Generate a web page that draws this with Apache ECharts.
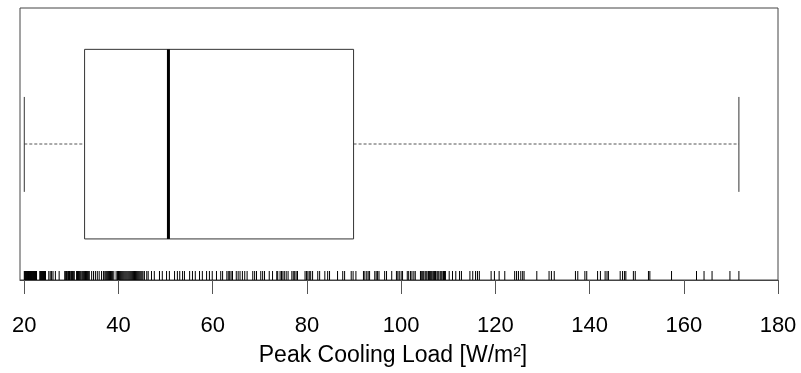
<!DOCTYPE html>
<html>
<head>
<meta charset="utf-8">
<script src="https://cdn.jsdelivr.net/npm/echarts@6/dist/echarts.min.js"></script>
<style>
  html, body { margin: 0; padding: 0; background: #fff; }
  #chart { width: 801px; height: 373px; }
</style>
</head>
<body>
<div id="chart"></div>
<script>
// box stats: min, Q1, median, Q3, max
const boxStats = [20.0, 32.8, 50.6, 89.9, 171.7];
const xTicks = [20, 40, 60, 80, 100, 120, 140, 160, 180];
const axisTitle = 'Peak Cooling Load [W/m²]';

// individual observations (rug)
const rugValues = [
  20.0, 20.1, 20.2, 20.3, 20.4, 20.5, 20.6, 20.7, 20.8, 20.9, 21.0, 21.1, 21.2, 21.3, 21.4, 21.5,
  21.6, 21.7, 21.8, 21.9, 22.0, 22.1, 22.2, 22.3, 22.4, 22.5, 22.6,
  23.3, 23.4, 23.5, 23.6, 23.7, 23.8, 23.9, 24.0, 24.1, 24.2, 24.3, 24.4, 24.5,
  25.2, 25.5, 25.8, 26.1, 26.6, 27.4,
  28.6, 28.7, 28.9, 29.0, 29.1, 29.3, 29.4, 29.6, 29.7, 29.9, 30.0, 30.2, 30.3, 30.5, 30.6,
  31.1, 31.3, 31.5, 31.7, 31.9, 32.2, 32.4, 32.6, 32.8, 33.0, 33.2, 33.4, 33.6, 33.8,
  34.3, 34.7, 35.1, 35.5, 35.9, 36.4,
  36.8, 37.1, 37.3, 37.5, 37.7, 37.9, 38.1, 38.3, 38.5, 38.7, 39.0,
  39.5, 39.8, 40.0, 40.2, 40.4, 40.6, 40.8, 41.0, 41.2, 41.4, 41.6, 41.8, 42.0, 42.2, 42.4,
  42.6, 42.8, 43.0, 43.2, 43.4, 43.6, 43.8, 44.0, 44.2, 44.4, 44.6, 44.8, 45.0, 45.2, 45.5,
  46.0, 46.3, 47.0, 47.6, 48.7, 49.3, 50.2, 50.8, 51.9, 52.5, 53.0, 53.6, 54.0, 55.1, 55.7, 56.3,
  57.2, 57.8, 58.7, 59.3, 59.9, 60.8, 61.7, 62.1, 63.0, 63.3, 63.6, 63.9, 64.2,
  65.0, 65.4, 65.8, 66.3, 66.8, 67.3, 68.5, 68.9, 69.3,
  70.2, 70.6, 71.0, 72.0, 72.7, 73.6, 73.8, 74.3, 74.6, 74.9, 75.2, 75.6, 76.0,
  76.8, 77.1, 77.4, 77.7, 78.0, 79.6, 79.9, 80.2, 80.5, 80.8, 81.2, 82.3, 82.7,
  83.8, 84.4, 84.8, 86.5, 87.6, 88.0, 89.4, 89.8, 90.4, 92.0, 92.3, 92.7, 93.0, 93.3,
  94.4, 94.7, 95.0, 95.3, 96.5, 96.9, 98.0, 99.0, 99.3, 99.6, 100.0, 100.3,
  101.3, 101.6, 102.0, 102.3, 102.7, 103.0, 104.1, 104.2, 104.4, 104.6, 104.8, 105.1, 105.3,
  105.5, 105.8, 106.0, 106.2, 106.4, 106.6, 106.9, 107.1, 107.3, 107.6, 107.8, 108.0, 108.3,
  108.5, 108.7, 109.0, 109.2, 109.4,
  110.2, 110.9, 111.6, 112.4, 112.8, 114.6, 115.2, 115.8, 116.2, 116.6,
  119.1, 119.8, 120.8, 122.0, 124.1, 124.5, 124.9, 125.4, 125.8,
  126.1, 128.8, 131.4, 131.9, 132.5, 137.0, 137.5, 139.0, 139.4, 141.7, 142.3,
  143.3, 143.7, 144.0, 146.5, 147.0, 147.4, 147.7, 149.3, 149.7, 152.5, 152.8,
  157.4, 162.7, 164.3, 166.0, 169.8, 171.7
];

const font = 'Liberation Sans, Arial, sans-serif';
const chart = echarts.init(document.getElementById('chart'));

function renderBox(params, api) {
  const v = [0, 1, 2, 3, 4].map(i => api.value(i));
  const yMid = api.coord([v[0], 0.5])[1];
  const yTop = api.coord([v[0], 0.848])[1];
  const yBot = api.coord([v[0], 0.151])[1];
  const capTop = api.coord([v[0], 0.673])[1];
  const capBot = api.coord([v[0], 0.324])[1];
  const x = v.map(d => api.coord([d, 0.5])[0]);
  const dash = { stroke: '#555', lineWidth: 1, lineDash: [3, 2] };
  const solid = { stroke: '#333', lineWidth: 1 };
  return {
    type: 'group',
    children: [
      { type: 'line', shape: { x1: x[0], y1: yMid, x2: x[1], y2: yMid }, style: dash },
      { type: 'line', shape: { x1: x[3], y1: yMid, x2: x[4], y2: yMid }, style: dash },
      { type: 'line', shape: { x1: x[0], y1: capTop, x2: x[0], y2: capBot }, style: solid },
      { type: 'line', shape: { x1: x[4], y1: capTop, x2: x[4], y2: capBot }, style: solid },
      { type: 'rect', shape: { x: x[1], y: yTop, width: x[3] - x[1], height: yBot - yTop },
        style: { fill: '#fff', stroke: '#333', lineWidth: 1 } },
      { type: 'line', shape: { x1: x[2], y1: yTop, x2: x[2], y2: yBot },
        style: { stroke: '#000', lineWidth: 3 } }
    ]
  };
}

function renderRug(params, api) {
  const p = api.coord([api.value(0), 0]);
  return {
    type: 'line',
    shape: { x1: p[0], y1: p[1], x2: p[0], y2: p[1] - 9 },
    style: { stroke: '#000', lineWidth: 1 }
  };
}

chart.setOption({
  animation: false,
  grid: { left: 20, right: 23, top: 8, bottom: 93, show: true, borderColor: '#444', borderWidth: 1 },
  xAxis: {
    type: 'value',
    min: 19.09,
    max: 180,
    axisLine: { show: true, onZero: false, lineStyle: { color: '#444' } },
    axisTick: { show: true, length: 14, customValues: xTicks, lineStyle: { color: '#555' } },
    axisLabel: { customValues: xTicks, margin: 35, fontSize: 22, color: '#000', fontFamily: font },
    splitLine: { show: false },
    name: axisTitle,
    nameLocation: 'middle',
    nameGap: 64,
    nameTextStyle: { fontSize: 23, color: '#000', fontFamily: font, padding: [0, 12, 0, 0] }
  },
  yAxis: { type: 'value', min: 0, max: 1, show: false },
  series: [
    { type: 'custom', data: [boxStats], renderItem: renderBox, encode: { x: [0, 1, 2, 3, 4] }, silent: true },
    { type: 'custom', data: rugValues.map(v => [v]), renderItem: renderRug, encode: { x: 0 }, silent: true }
  ]
});
</script>
</body>
</html>
